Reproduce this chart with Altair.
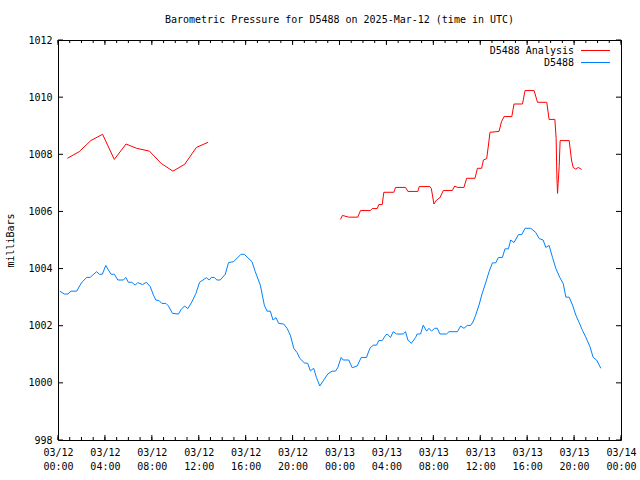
import altair as alt
import pandas as pd

FONT = "DejaVu Sans Mono"
TITLE = "Barometric Pressure for D5488 on 2025-Mar-12 (time in UTC)"
Y_TITLE = "milliBars"
SERIES_NAMES = ["D5488 Analysis", "D5488"]
SERIES_COLORS = ["#ff0000", "#0080ff"]
START = pd.Timestamp("2025-03-12T00:00:00")

# hours after 03/12 00:00 UTC
analysis_hours_1 = [0.8, 1.8, 2.8, 3.8, 4.8, 5.8, 6.7, 7.8, 8.8, 9.8, 10.8, 11.8, 12.8]
analysis_vals_1 = [1007.86, 1008.09, 1008.48, 1008.70, 1007.82, 1008.36, 1008.21,
                   1008.11, 1007.68, 1007.41, 1007.65, 1008.24, 1008.42]

analysis_hours_2 = [24.08, 24.25, 24.79, 25.56, 25.79, 26.64, 26.79, 27.22, 27.35, 27.64,
                    27.78, 28.63, 28.78, 29.63, 29.83, 30.68, 30.80, 31.71, 31.83, 32.05,
                    32.28, 32.56, 32.85, 33.62, 33.82, 34.05, 34.61, 34.84, 35.55, 35.76,
                    36.12, 36.27, 36.55, 36.69, 36.83, 37.60, 37.81, 38.03, 38.69, 38.88,
                    39.60, 39.82, 40.59, 40.88, 41.67, 41.87, 42.36, 42.47, 42.53, 42.59,
                    42.64, 42.73, 42.81, 43.58, 43.78, 43.92, 44.15, 44.35, 44.64]
analysis_vals_2 = [1005.72, 1005.86, 1005.80, 1005.80, 1006.03, 1006.03, 1006.10, 1006.10, 1006.24, 1006.24,
                   1006.67, 1006.67, 1006.84, 1006.84, 1006.70, 1006.70, 1006.87, 1006.87, 1006.80, 1006.26,
                   1006.40, 1006.48, 1006.73, 1006.73, 1006.89, 1006.84, 1006.84, 1007.16, 1007.16, 1007.51,
                   1007.51, 1007.80, 1007.85, 1008.29, 1008.77, 1008.80, 1009.14, 1009.32, 1009.32, 1009.76,
                   1009.76, 1010.23, 1010.23, 1009.82, 1009.82, 1009.22, 1009.22, 1008.56, 1007.27, 1006.63,
                   1006.98, 1007.57, 1008.48, 1008.48, 1007.80, 1007.54, 1007.48, 1007.54, 1007.47]

obs_hours = [0.15, 0.54, 0.83, 1.11, 1.60, 1.88, 2.08, 2.45, 2.76, 3.02, 3.30, 3.53, 3.78, 4.07,
             4.30, 4.53, 4.81, 5.10, 5.58, 5.78, 6.00, 6.29, 6.58, 6.80, 7.20, 7.54, 7.86, 8.14,
             8.34, 8.62, 8.85, 9.20, 9.42, 9.76, 10.27, 10.50, 10.79, 11.07, 11.42, 11.76, 12.07,
             12.36, 12.64, 12.90, 13.07, 13.32, 13.55, 13.83, 14.26, 14.54, 14.97, 15.60, 15.88,
             16.54, 16.82, 17.25, 17.59, 17.82, 18.10, 18.33, 18.59, 18.81, 19.24, 19.53, 19.81,
             20.10, 20.38, 20.61, 21.00, 21.29, 21.52, 21.80, 22.03, 22.32, 22.66, 23.00, 23.37,
             23.65, 23.85, 24.14, 24.31, 24.79, 25.08, 25.51, 25.85, 26.30, 26.59, 26.87, 27.16,
             27.35, 27.64, 27.93, 28.07, 28.35, 28.58, 28.86, 29.43, 29.63, 29.83, 30.12, 30.49,
             30.63, 30.91, 31.14, 31.43, 31.62, 31.85, 32.11, 32.34, 32.56, 33.13, 33.33, 34.05,
             34.33, 34.61, 34.90, 35.18, 35.38, 35.61, 35.89, 36.18, 36.46, 36.75, 37.04, 37.32,
             37.55, 37.89, 38.11, 38.40, 38.60, 38.88, 39.26, 39.54, 39.82, 40.31, 40.74, 41.02,
             41.36, 41.59, 41.87, 42.16, 42.44, 42.78, 43.07, 43.30, 43.58, 43.87, 44.15, 44.43,
             44.72, 45.01, 45.35, 45.63, 45.92, 46.28]
obs_vals = [1003.21, 1003.11, 1003.11, 1003.21, 1003.21, 1003.42, 1003.54, 1003.69, 1003.69, 1003.80,
            1003.89, 1003.80, 1003.80, 1004.11, 1003.95, 1003.80, 1003.80, 1003.60, 1003.60, 1003.69,
            1003.52, 1003.52, 1003.42, 1003.51, 1003.44, 1003.52, 1003.37, 1003.07, 1002.90, 1002.88,
            1002.78, 1002.78, 1002.69, 1002.43, 1002.41, 1002.57, 1002.69, 1002.60, 1002.84, 1003.13,
            1003.52, 1003.60, 1003.68, 1003.60, 1003.69, 1003.69, 1003.60, 1003.60, 1003.80, 1004.21,
            1004.24, 1004.50, 1004.50, 1004.24, 1003.89, 1003.42, 1002.72, 1002.51, 1002.51, 1002.20,
            1002.28, 1002.08, 1002.06, 1001.91, 1001.67, 1001.21, 1001.06, 1000.86, 1000.70, 1000.68,
            1000.42, 1000.51, 1000.19, 999.89, 1000.10, 1000.31, 1000.41, 1000.41, 1000.53, 1000.89,
            1000.80, 1000.80, 1000.53, 1000.59, 1000.89, 1000.89, 1001.21, 1001.32, 1001.32, 1001.48,
            1001.48, 1001.67, 1001.71, 1001.59, 1001.79, 1001.71, 1001.71, 1001.79, 1001.50, 1001.38,
            1001.59, 1001.71, 1001.71, 1002.02, 1001.81, 1001.91, 1001.81, 1001.91, 1001.91, 1001.71,
            1001.71, 1001.79, 1001.79, 1001.99, 1001.91, 1002.01, 1002.01, 1002.13, 1002.37, 1002.72,
            1003.15, 1003.50, 1003.89, 1004.20, 1004.20, 1004.39, 1004.39, 1004.69, 1004.69, 1005.00,
            1004.91, 1005.19, 1005.19, 1005.41, 1005.41, 1005.26, 1005.05, 1005.00, 1004.74, 1004.81,
            1004.39, 1004.01, 1003.69, 1003.48, 1003.00, 1003.00, 1002.72, 1002.37, 1002.11, 1001.83,
            1001.59, 1001.27, 1000.89, 1000.80, 1000.51]

y_ticks = [998, 1000, 1002, 1004, 1006, 1008, 1010, 1012]
x_major_hours = list(range(0, 49, 4))
x_minor_hours = list(range(0, 49, 1))

W, H = 563, 400


def iso(h):
    return (START + pd.Timedelta(hours=h)).strftime("%Y-%m-%dT%H:%M:%SZ")


def dt(h):
    return alt.DateTime(year=2025, month=3, date=12 + h // 24, hours=h % 24, utc=True)


red_df = pd.DataFrame({
    "time": [iso(h) for h in analysis_hours_1] + [iso(h) for h in analysis_hours_2],
    "p": analysis_vals_1 + analysis_vals_2,
    "seg": [1] * len(analysis_hours_1) + [2] * len(analysis_hours_2),
})
blue_df = pd.DataFrame({"time": [iso(h) for h in obs_hours], "p": obs_vals})
major_df = pd.DataFrame({"time": [iso(h) for h in x_major_hours]})
minor_df = pd.DataFrame({"time": [iso(h) for h in x_minor_hours]})
ytick_df = pd.DataFrame({"p": y_ticks})

xscale = alt.Scale(type="utc", domain=[dt(0), dt(48)])
yscale = alt.Scale(domain=[998, 1012], nice=False, zero=False)

x_axis = alt.Axis(
    values=[dt(h) for h in x_major_hours],
    labelExpr="[utcFormat(datum.value, '%m/%d'), utcFormat(datum.value, '%H:%M')]",
    title=None, grid=False, ticks=False, tickSize=0, domain=False,
    labelFont=FONT, labelFontSize=10, labelColor="black", labelPadding=7,
    labelLineHeight=14, labelFlush=False, labelOverlap=False, labelBound=False,
)
y_axis = alt.Axis(
    values=y_ticks, format="d", title=Y_TITLE, grid=False, ticks=False, tickSize=0,
    domain=False, labelFont=FONT, labelFontSize=10, labelColor="black", labelPadding=6,
    titleFont=FONT, titleFontSize=10, titleFontWeight="normal", titleColor="black",
    titlePadding=12,
)

X = alt.X("time:T", scale=xscale, axis=x_axis)
Y = alt.Y("p:Q", scale=yscale, axis=y_axis)

red = alt.Chart(red_df).mark_line(color=SERIES_COLORS[0], strokeWidth=1).encode(
    x=X, y=Y, detail="seg:N",
)
blue = alt.Chart(blue_df).mark_line(color=SERIES_COLORS[1], strokeWidth=1).encode(
    x=X, y=Y,
)


def xticks(df, y0, y1):
    return alt.Chart(df).mark_rule(color="black", strokeWidth=1).encode(
        x=X, y=alt.value(y0), y2=alt.value(y1),
    )


def yticks(x0, x1):
    return alt.Chart(ytick_df).mark_rule(color="black", strokeWidth=1).encode(
        y=Y, x=alt.value(x0), x2=alt.value(x1),
    )


tick_layers = [
    xticks(major_df, H, H - 5), xticks(major_df, 0, 5),
    xticks(minor_df, H, H - 3), xticks(minor_df, 0, 3),
    yticks(0, 5), yticks(W, W - 5),
]

legend_layers = []
for i, (name, col) in enumerate(zip(SERIES_NAMES, SERIES_COLORS)):
    ly = 10.5 + 12 * i
    ldf = pd.DataFrame({"label": [name]})
    legend_layers.append(
        alt.Chart(ldf).mark_text(font=FONT, fontSize=10, align="right", baseline="middle",
                                 color="black").encode(
            text="label:N", x=alt.value(516), y=alt.value(ly))
    )
    legend_layers.append(
        alt.Chart(ldf).mark_rule(color=col, strokeWidth=1).encode(
            x=alt.value(523), x2=alt.value(552), y=alt.value(ly))
    )

chart = alt.layer(red, blue, *tick_layers, *legend_layers).properties(
    width=W, height=H,
    title=alt.TitleParams(TITLE, font=FONT, fontSize=10, fontWeight="normal", color="black",
                          anchor="middle", baseline="middle", offset=5),
    padding={"left": 58, "top": 40, "right": 19, "bottom": 40},
    autosize=alt.AutoSizeParams(type="none"),
    background="white",
).configure_view(stroke="black", strokeWidth=1)

chart.save("out.html", embed_options={"renderer": "svg", "actions": False})
